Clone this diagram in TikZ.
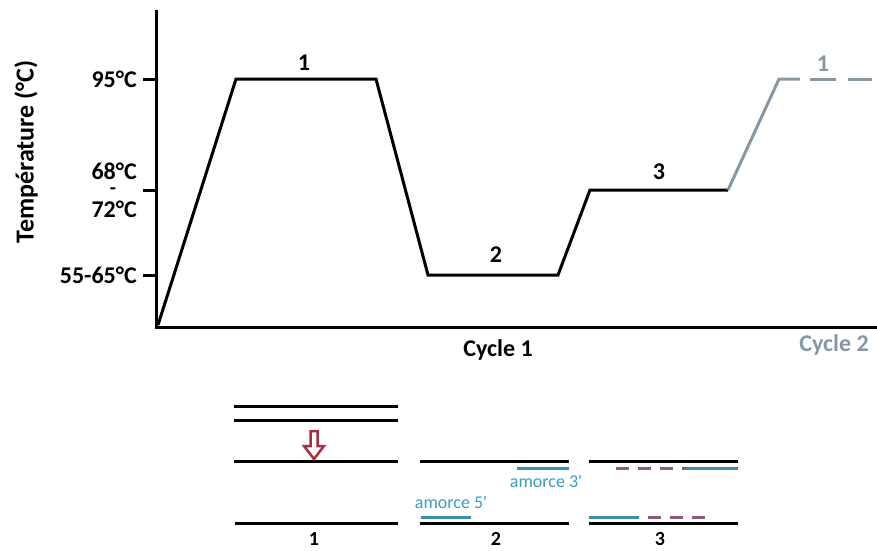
\documentclass[tikz,border=0pt]{standalone}
\usepackage{fontspec}
\setmainfont{Carlito}
\usepackage{tikz}
\definecolor{cyclegray}{HTML}{8797A4}
\definecolor{primerteal}{HTML}{3A8FA3}
\definecolor{primertext}{HTML}{3A9EC2}
\definecolor{newpurple}{HTML}{8C5A86}
\definecolor{arrowred}{HTML}{A8303C}
\tikzset{
  lbl/.style={font=\bfseries\fontsize{24}{26}\selectfont, inner sep=0pt},
  smalllbl/.style={font=\bfseries\fontsize{20}{22}\selectfont, inner sep=0pt},
  curve/.style={line width=3pt, line join=miter},
  strand/.style={line width=3pt},
  primer/.style={line width=3pt, primerteal},
  newdna/.style={line width=3pt, newpurple, dash pattern=on 13pt off 9pt},
  primerlbl/.style={font=\fontsize{18}{20}\selectfont, text=primertext, inner sep=0pt}
}

\begin{document}
\begin{tikzpicture}[x=1pt,y=-1pt]
\useasboundingbox (0,0) rectangle (877,550);
% axes
\coordinate(top) at (156,10);
\coordinate(O) at (156,327);
\coordinate(right) at (877,327);
\coordinate(t95) at (143,79);
\coordinate(t70) at (143,190);
\coordinate(t60) at (143,275);
\draw[line width=3pt](top) -- (O) -- (right);
\draw[line width=3pt](t95) -- (t95 -| O);
\draw[line width=3pt](t70) -- (t70 -| O);
\draw[line width=3pt](t60) -- (t60 -| O);
%
\node[lbl, anchor=east](l95) at (137,79) {95°C};
\node[lbl, anchor=east](l68) at (137,171) {68°C};
\node[lbl, font=\bfseries\fontsize{20}{20}\selectfont](dash) at (113,191) {-};
\node[lbl, anchor=east](l72) at (137,209) {72°C};
\node[lbl, anchor=east](l60) at (137,275) {55-65°C};
\node[lbl, rotate=90, font=\bfseries\fontsize{26}{28}\selectfont](ylab) at (26,152) {Température (°C)};
%
\coordinate(p0) at (158,325);
\coordinate(p1) at (236,79);
\coordinate(p2) at (376,79);
\coordinate(p3) at (428,275);
\coordinate(p4) at (558,275);
\coordinate(p5) at (590,190);
\coordinate(p6) at (728,190);
\coordinate(p7) at (779,79);
\coordinate(p8) at (800,79);
\coordinate(d1a) at (810,79);
\coordinate(d1b) at (836,79);
\coordinate(d2a) at (848,79);
\coordinate(d2b) at (872,79);
\draw[curve](p0) -- (p1) -- (p2) -- (p3) -- (p4) -- (p5) -- (p6);
\draw[curve, cyclegray](p6) -- (p7) -- (p8);
\draw[curve, cyclegray](d1a) -- (d1b);
\draw[curve, cyclegray](d2a) -- (d2b);
%
\node[lbl](s1) at (304,63) {1};
\node[lbl](s2) at (496,255) {2};
\node[lbl](s3) at (659,172) {3};
\node[lbl, text=cyclegray](s1b) at (823,64) {1};
\node[lbl](c1) at (498,350) {Cycle 1};
\node[lbl, text=cyclegray](c2) at (834,345) {Cycle 2};
%
% strands
\coordinate(a1) at (234,406);
\coordinate(a2) at (398,406);
\coordinate(b1) at (234,420);
\coordinate(b2) at (398,420);
\coordinate(m1) at (234,461);
\coordinate(m2) at (398,461);
\coordinate(n1) at (235,523);
\coordinate(n2) at (398,523);
\draw[strand](a1) -- (a2);
\draw[strand](b1) -- (b2);
\draw[strand](m1) -- (m2);
\draw[strand](n1) -- (n2);
\draw[arrowred, line width=2.5pt, fill=white, line join=miter]
  (310.5,431) -- (317.5,431) -- (317.5,446) -- (324,446) -- (314,459)
  -- (304,446) -- (310.5,446) -- cycle;
\node[smalllbl](k1) at (314,539) {1};
%
\coordinate(m3) at (420,461);
\coordinate(m4) at (569,461);
\coordinate(n3) at (420,523);
\coordinate(n4) at (569,523);
\draw[strand](m3) -- (m4);
\draw[strand](n3) -- (n4);
\coordinate(r1) at (517,468);
\coordinate(r2) at (569,468);
\coordinate(f1) at (421,517);
\coordinate(f2) at (471,517);
\draw[primer](r1) -- (r2);
\draw[primer](f1) -- (f2);
\node[primerlbl](am3) at (546,481) {amorce 3\textquotesingle};
\node[primerlbl](am5) at (451,502) {amorce 5\textquotesingle};
\node[smalllbl](k2) at (496,539) {2};
%
\coordinate(m5) at (589,461);
\coordinate(m6) at (738,461);
\coordinate(n5) at (589,523);
\coordinate(n6) at (738,523);
\draw[strand](m5) -- (m6);
\draw[strand](n5) -- (n6);
\coordinate(e1) at (616,468);
\coordinate(e2) at (686,468);
\coordinate(e3) at (738,468);
\coordinate(g1) at (589,517);
\coordinate(g2) at (639,517);
\coordinate(g3) at (648,517);
\coordinate(g4) at (711,517);
\draw[newdna](e1) -- (e2);
\draw[primer](e2) -- (e3);
\draw[primer](g1) -- (g2);
\draw[newdna](g3) -- (g4);
\node[smalllbl](k3) at (660,539) {3};
\end{tikzpicture}
\end{document}
